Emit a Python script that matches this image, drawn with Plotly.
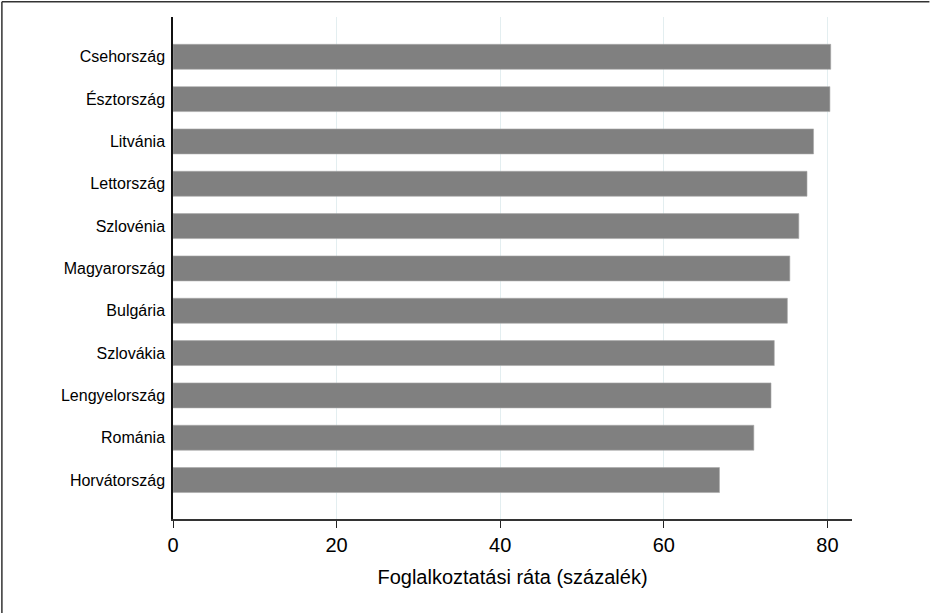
import plotly.graph_objects as go

countries = ["Horvátország", "Románia", "Lengyelország", "Szlovákia", "Bulgária",
             "Magyarország", "Szlovénia", "Lettország", "Litvánia", "Észtország", "Csehország"]
rates = [66.8, 71.0, 73.1, 73.5, 75.1, 75.4, 76.5, 77.5, 78.3, 80.3, 80.4]
x_ticks = [0, 20, 40, 60, 80]
x_title = "Foglalkoztatási ráta (százalék)"

fig = go.Figure(go.Bar(
    x=rates, y=countries, orientation="h",
    marker=dict(color="#808080", line=dict(color="#a8a8a8", width=0.6)),
    hoverinfo="x+y",
))

font = "Liberation Sans, Arial, sans-serif"
fig.update_layout(
    width=931, height=613,
    margin=dict(l=173, r=79, t=17, b=94),
    paper_bgcolor="white", plot_bgcolor="white",
    bargap=0.41,
    showlegend=False,
    font=dict(family=font, color="black"),
    xaxis=dict(
        range=[0, 83], tickvals=x_ticks, ticks="outside", ticklen=7, tickwidth=1.3,
        tickcolor="#222", showline=True, linecolor="#333", linewidth=2.2,
        showgrid=True, gridcolor="#e3eef0", gridwidth=1.2, zeroline=False,
        tickfont=dict(size=20, family=font),
        title=dict(text=x_title, font=dict(size=20, family=font), standoff=15),
    ),
    yaxis=dict(
        type="category", range=[-0.92, 10.94], showline=True, linecolor="#111",
        linewidth=1.5, ticks="", showgrid=False, zeroline=False,
        tickfont=dict(size=16, family=font), ticklabelstandoff=3,
    ),
    shapes=[
        dict(type="line", xref="paper", yref="paper", x0=-0.252, x1=1.114, y0=1.0305, y1=1.0305,
             line=dict(color="#333", width=1.5)),
        dict(type="line", xref="paper", yref="paper", x0=-0.252, x1=-0.252, y0=-0.2, y1=1.0305,
             line=dict(color="#333", width=1.5)),
    ],
)

fig.write_html("out.html", config={"displayModeBar": False},
               post_script="document.body.style.margin='0';document.body.style.overflow='hidden';")
